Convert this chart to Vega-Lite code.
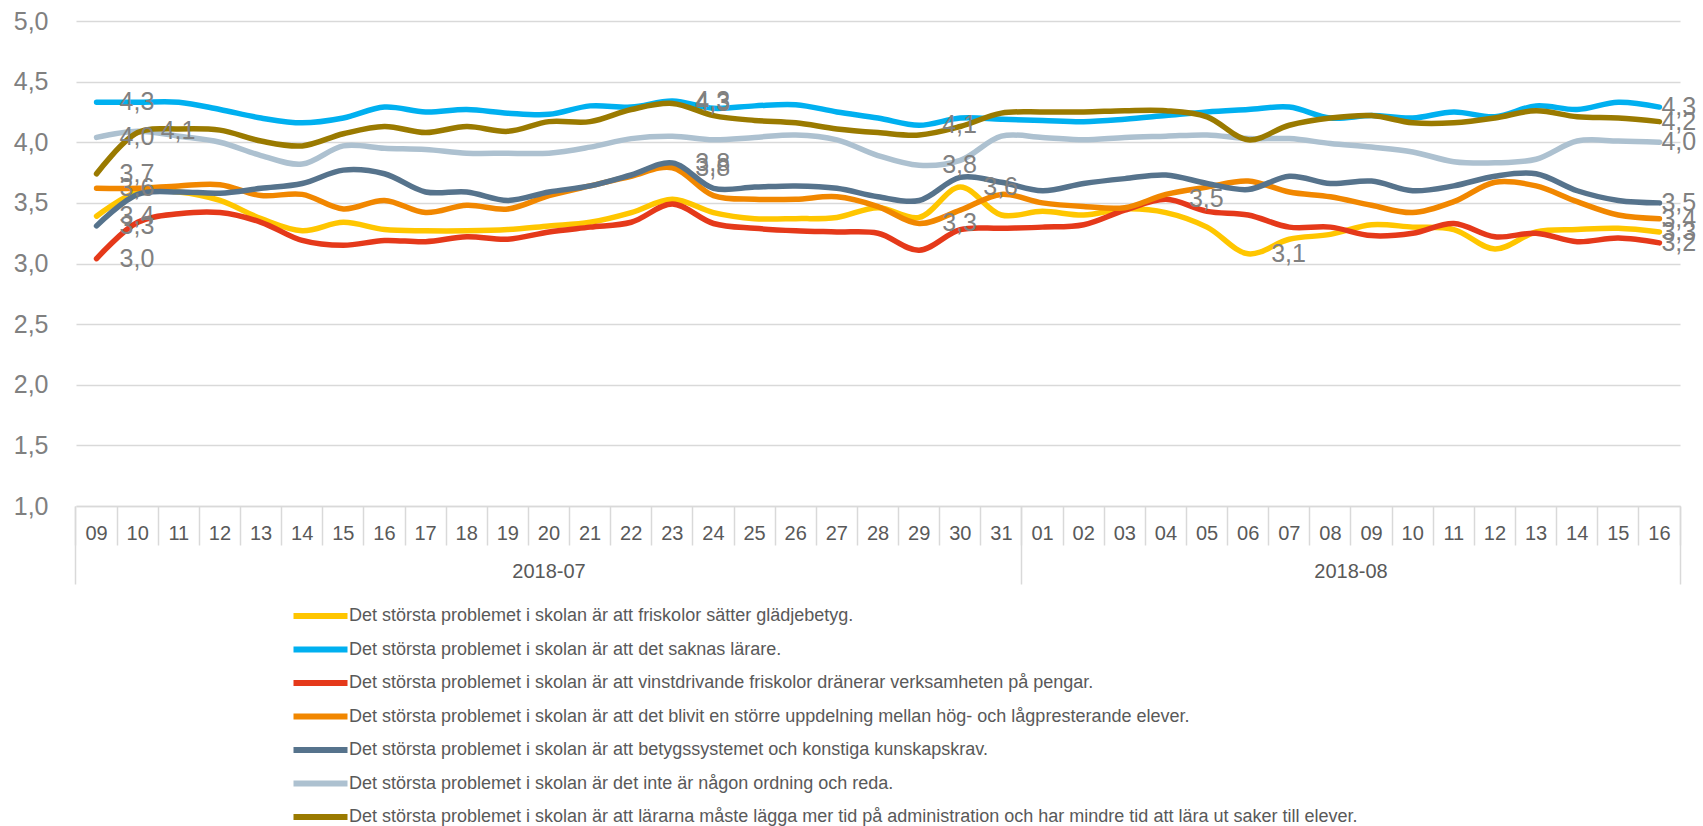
{
  "$schema": "https://vega.github.io/schema/vega-lite/v6.json",
  "width": 1604,
  "height": 485,
  "autosize": {"type": "none"},
  "padding": {"left": 76, "top": 21, "right": 23, "bottom": 320},
  "background": "#ffffff",
  "config": {"view": {"stroke": null}, "font": "Liberation Sans"},
  "datasets": {
    "names": [
      {"k": "s1", "name": "Det största problemet i skolan är att friskolor sätter glädjebetyg."},
      {"k": "s2", "name": "Det största problemet i skolan är att det saknas lärare."},
      {"k": "s3", "name": "Det största problemet i skolan är att vinstdrivande friskolor dränerar verksamheten på pengar."},
      {"k": "s4", "name": "Det största problemet i skolan är att det blivit en större uppdelning mellan hög- och lågpresterande elever."},
      {"k": "s5", "name": "Det största problemet i skolan är att betygssystemet och konstiga kunskapskrav."},
      {"k": "s6", "name": "Det största problemet i skolan är det inte är någon ordning och reda."},
      {"k": "s7", "name": "Det största problemet i skolan är att lärarna måste lägga mer tid på administration och har mindre tid att lära ut saker till elever."}
    ]
  },
  "data": {
    "values": [
      {"d": "2018-07-09", "s1": 3.39, "s2": 4.33, "s3": 3.04, "s4": 3.62, "s5": 3.31, "s6": 4.04, "s7": 3.74},
      {"d": "2018-07-10", "s1": 3.59, "s2": 4.33, "s3": 3.34, "s4": 3.62, "s5": 3.57, "s6": 4.09, "s7": 4.08},
      {"d": "2018-07-11", "s1": 3.59, "s2": 4.33, "s3": 3.41, "s4": 3.64, "s5": 3.59, "s6": 4.05, "s7": 4.11},
      {"d": "2018-07-12", "s1": 3.52, "s2": 4.27, "s3": 3.42, "s4": 3.65, "s5": 3.58, "s6": 4.0, "s7": 4.1},
      {"d": "2018-07-13", "s1": 3.37, "s2": 4.2, "s3": 3.34, "s4": 3.56, "s5": 3.62, "s6": 3.89, "s7": 4.01},
      {"d": "2018-07-14", "s1": 3.27, "s2": 4.16, "s3": 3.19, "s4": 3.57, "s5": 3.66, "s6": 3.82, "s7": 3.97},
      {"d": "2018-07-15", "s1": 3.34, "s2": 4.2, "s3": 3.15, "s4": 3.45, "s5": 3.77, "s6": 3.97, "s7": 4.07},
      {"d": "2018-07-16", "s1": 3.28, "s2": 4.29, "s3": 3.19, "s4": 3.52, "s5": 3.74, "s6": 3.95, "s7": 4.13},
      {"d": "2018-07-17", "s1": 3.27, "s2": 4.25, "s3": 3.18, "s4": 3.42, "s5": 3.59, "s6": 3.94, "s7": 4.08},
      {"d": "2018-07-18", "s1": 3.27, "s2": 4.27, "s3": 3.22, "s4": 3.48, "s5": 3.59, "s6": 3.91, "s7": 4.13},
      {"d": "2018-07-19", "s1": 3.28, "s2": 4.24, "s3": 3.2, "s4": 3.45, "s5": 3.52, "s6": 3.91, "s7": 4.09},
      {"d": "2018-07-20", "s1": 3.31, "s2": 4.23, "s3": 3.26, "s4": 3.56, "s5": 3.59, "s6": 3.91, "s7": 4.17},
      {"d": "2018-07-21", "s1": 3.34, "s2": 4.3, "s3": 3.3, "s4": 3.64, "s5": 3.64, "s6": 3.96, "s7": 4.17},
      {"d": "2018-07-22", "s1": 3.42, "s2": 4.29, "s3": 3.34, "s4": 3.72, "s5": 3.73, "s6": 4.03, "s7": 4.27},
      {"d": "2018-07-23", "s1": 3.53, "s2": 4.34, "s3": 3.49, "s4": 3.79, "s5": 3.83, "s6": 4.05, "s7": 4.32},
      {"d": "2018-07-24", "s1": 3.42, "s2": 4.28, "s3": 3.33, "s4": 3.56, "s5": 3.62, "s6": 4.02, "s7": 4.22},
      {"d": "2018-07-25", "s1": 3.37, "s2": 4.3, "s3": 3.29, "s4": 3.53, "s5": 3.63, "s6": 4.04, "s7": 4.18},
      {"d": "2018-07-26", "s1": 3.37, "s2": 4.31, "s3": 3.27, "s4": 3.53, "s5": 3.64, "s6": 4.06, "s7": 4.16},
      {"d": "2018-07-27", "s1": 3.38, "s2": 4.25, "s3": 3.26, "s4": 3.55, "s5": 3.62, "s6": 4.02, "s7": 4.11},
      {"d": "2018-07-28", "s1": 3.46, "s2": 4.2, "s3": 3.25, "s4": 3.47, "s5": 3.55, "s6": 3.89, "s7": 4.08},
      {"d": "2018-07-29", "s1": 3.38, "s2": 4.14, "s3": 3.11, "s4": 3.33, "s5": 3.52, "s6": 3.81, "s7": 4.06},
      {"d": "2018-07-30", "s1": 3.63, "s2": 4.2, "s3": 3.28, "s4": 3.44, "s5": 3.71, "s6": 3.85, "s7": 4.13},
      {"d": "2018-07-31", "s1": 3.4, "s2": 4.19, "s3": 3.29, "s4": 3.57, "s5": 3.67, "s6": 4.05, "s7": 4.24},
      {"d": "2018-08-01", "s1": 3.43, "s2": 4.18, "s3": 3.3, "s4": 3.5, "s5": 3.6, "s6": 4.04, "s7": 4.25},
      {"d": "2018-08-02", "s1": 3.4, "s2": 4.17, "s3": 3.32, "s4": 3.47, "s5": 3.66, "s6": 4.02, "s7": 4.25},
      {"d": "2018-08-03", "s1": 3.45, "s2": 4.19, "s3": 3.44, "s4": 3.46, "s5": 3.7, "s6": 4.04, "s7": 4.26},
      {"d": "2018-08-04", "s1": 3.42, "s2": 4.22, "s3": 3.53, "s4": 3.57, "s5": 3.73, "s6": 4.05, "s7": 4.26},
      {"d": "2018-08-05", "s1": 3.3, "s2": 4.25, "s3": 3.43, "s4": 3.63, "s5": 3.66, "s6": 4.06, "s7": 4.21},
      {"d": "2018-08-06", "s1": 3.08, "s2": 4.27, "s3": 3.4, "s4": 3.68, "s5": 3.61, "s6": 4.03, "s7": 4.02},
      {"d": "2018-08-07", "s1": 3.2, "s2": 4.29, "s3": 3.3, "s4": 3.59, "s5": 3.72, "s6": 4.03, "s7": 4.14},
      {"d": "2018-08-08", "s1": 3.24, "s2": 4.2, "s3": 3.3, "s4": 3.55, "s5": 3.66, "s6": 3.99, "s7": 4.2},
      {"d": "2018-08-09", "s1": 3.32, "s2": 4.22, "s3": 3.23, "s4": 3.48, "s5": 3.68, "s6": 3.96, "s7": 4.22},
      {"d": "2018-08-10", "s1": 3.3, "s2": 4.2, "s3": 3.25, "s4": 3.42, "s5": 3.6, "s6": 3.92, "s7": 4.16},
      {"d": "2018-08-11", "s1": 3.28, "s2": 4.25, "s3": 3.33, "s4": 3.51, "s5": 3.64, "s6": 3.84, "s7": 4.16},
      {"d": "2018-08-12", "s1": 3.12, "s2": 4.21, "s3": 3.22, "s4": 3.67, "s5": 3.72, "s6": 3.83, "s7": 4.2},
      {"d": "2018-08-13", "s1": 3.26, "s2": 4.3, "s3": 3.25, "s4": 3.64, "s5": 3.74, "s6": 3.86, "s7": 4.26},
      {"d": "2018-08-14", "s1": 3.28, "s2": 4.27, "s3": 3.18, "s4": 3.51, "s5": 3.6, "s6": 4.01, "s7": 4.21},
      {"d": "2018-08-15", "s1": 3.29, "s2": 4.33, "s3": 3.21, "s4": 3.4, "s5": 3.52, "s6": 4.01, "s7": 4.2},
      {"d": "2018-08-16", "s1": 3.26, "s2": 4.29, "s3": 3.17, "s4": 3.37, "s5": 3.5, "s6": 4.0, "s7": 4.17}
    ]
  },
  "transform": [
    {"fold": ["s1", "s2", "s3", "s4", "s5", "s6", "s7"], "as": ["k", "v"]},
    {"lookup": "k", "from": {"data": {"name": "names"}, "key": "k", "fields": ["name"]}}
  ],
  "layer": [
    {
      "mark": {"type": "line", "interpolate": "catmull-rom", "strokeWidth": 5.5, "strokeCap": "round", "strokeJoin": "round"},
      "encoding": {
        "x": {
          "field": "d", "type": "ordinal", "bandPosition": 0.5,
          "scale": {"type": "band", "paddingInner": 0, "paddingOuter": 0},
          "axis": {
            "title": null, "labelExpr": "datum.value ? substring(datum.value, 8, 10) : ''", "labelAngle": 0,
            "labelFontSize": 20, "labelColor": "#595959", "labelBaseline": "top", "labelPadding": -22,
            "labelOverlap": false, "bandPosition": 1, "tickExtra": true, "tickSize": 39,
            "tickColor": "#d9d9d9", "tickWidth": 1.5, "domainColor": "#d9d9d9", "domainWidth": 1.5, "grid": false
          }
        },
        "y": {
          "field": "v", "type": "quantitative",
          "scale": {"domain": [1, 5], "nice": false, "zero": false},
          "axis": {
            "title": null, "values": [1, 1.5, 2, 2.5, 3, 3.5, 4, 4.5, 5],
            "labelExpr": "replace(format(datum.value, '.1f'), '.', ',')",
            "domain": false, "ticks": false, "labelPadding": 28, "labelFontSize": 25, "labelColor": "#808080",
            "gridColor": "#d9d9d9", "gridWidth": 1.5
          }
        },
        "color": {
          "field": "name", "type": "nominal", "sort": {"field": "k", "op": "min"},
          "scale": {"range": ["#FFC600", "#00B0F0", "#E5391A", "#F18700", "#56738C", "#ADC1D0", "#9A7A00"]},
          "legend": {
            "orient": "none", "legendX": 232.5, "legendY": 583, "direction": "vertical", "title": null,
            "symbolType": "M-3,0L3,0", "symbolSize": 324, "symbolStrokeWidth": 6,
            "labelFontSize": 18, "labelColor": "#595959", "labelOffset": 16.5, "rowPadding": 9.5,
            "labelLimit": 2000, "padding": 0
          }
        }
      }
    },
    {
      "transform": [
        {"joinaggregate": [{"op": "max", "field": "v", "as": "vmax"}, {"op": "min", "field": "v", "as": "vmin"}], "groupby": ["k"]},
        {"calculate": "(datum.v === datum.vmax || datum.v === datum.vmin || datum.d === '2018-07-09' || datum.d === '2018-08-16') ? replace(format(datum.v, '.1f'), '.', ',') : ''", "as": "lbl"}
      ],
      "mark": {"type": "text", "align": "left", "baseline": "middle", "fontSize": 25, "color": "#808080", "dx": {"expr": "datum.d === '2018-08-16' ? 2 : 23"}},
      "encoding": {
        "x": {
          "field": "d", "type": "ordinal", "bandPosition": 0.5,
          "scale": {"type": "band", "paddingInner": 0, "paddingOuter": 0},
          "axis": {
            "orient": "bottom", "title": null, "domain": false, "grid": false,
            "labelExpr": "datum.value === '2018-07-20' ? '2018-07' : datum.value === '2018-08-08' ? '2018-08' : ''",
            "labelOffset": {"condition": {"test": "datum.value === '2018-08-08'", "value": 20.56}, "value": 0},
            "labelAngle": 0, "labelFontSize": 20, "labelColor": "#595959", "labelBaseline": "top", "labelPadding": -23,
            "labelOverlap": false, "bandPosition": 1, "tickExtra": true, "tickSize": 78,
            "tickColor": "#d9d9d9", "tickWidth": 1.5,
            "tickOpacity": {"condition": {"test": "datum.extra || datum.value === '2018-07-31' || datum.value === '2018-08-16'", "value": 1}, "value": 0}
          }
        },
        "y": {"field": "v", "type": "quantitative", "axis": {"title": null}},
        "text": {"field": "lbl"}
      }
    }
  ],
  "resolve": {"scale": {"x": "independent"}}
}
